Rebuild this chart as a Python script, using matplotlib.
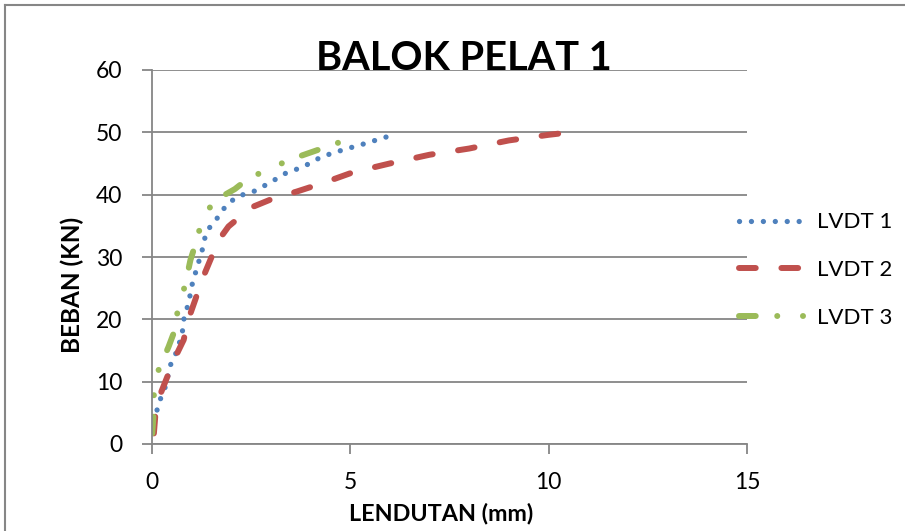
import matplotlib
matplotlib.use("Agg")
import matplotlib.pyplot as plt
from matplotlib.lines import Line2D

# Data
lvdt1_x = [0.02, 0.10, 0.18, 0.35, 0.48, 0.60, 0.77, 0.81, 0.94, 1.02, 1.15, 1.27, 1.36, 1.48, 1.69, 1.86, 2.15, 2.57, 2.95, 3.37, 3.83, 4.29, 4.83, 5.38, 5.88, 6.15]
lvdt1_y = [1.7, 4.4, 6.5, 9.2, 12.7, 14.3, 17.5, 19.9, 22.8, 25.5, 28.4, 30.9, 33.5, 34.9, 36.5, 38.1, 39.7, 40.5, 41.8, 43.4, 44.5, 46.1, 47.2, 48.2, 49.2, 49.6]

lvdt2_x = [0.06, 0.10, 0.23, 0.43, 0.65, 0.81, 0.94, 1.10, 1.27, 1.48, 1.69, 1.94, 2.24, 2.57, 3.07, 3.66, 4.29, 5.08, 6.00, 7.00, 8.00, 9.00, 10.00, 10.27]
lvdt2_y = [1.7, 4.9, 8.1, 11.3, 14.6, 16.7, 20.2, 23.1, 26.3, 29.5, 32.7, 34.9, 36.5, 38.1, 39.4, 40.5, 41.8, 43.6, 45.0, 46.4, 47.4, 48.7, 49.6, 49.8]

lvdt3_x = [0.02, 0.06, 0.06, 0.18, 0.43, 0.56, 0.65, 0.77, 0.89, 0.98, 1.06, 1.15, 1.27, 1.40, 1.52, 1.77, 2.10, 2.40, 2.90, 3.57, 4.29, 5.00, 5.17]
lvdt3_y = [1.7, 5.5, 8.1, 11.9, 15.6, 17.8, 21.0, 23.6, 26.8, 29.5, 31.1, 33.3, 35.4, 37.0, 38.6, 39.7, 40.9, 42.4, 44.0, 45.8, 47.4, 49.0, 49.3]

series_names = ["LVDT 1", "LVDT 2", "LVDT 3"]
x_ticks = [0, 5, 10, 15]
y_ticks = [0, 10, 20, 30, 40, 50, 60]

FONT = "Lato"
GRID = "#868686"
c_blue, c_red, c_green = "#4F81BD", "#C0504D", "#9BBB59"

fig = plt.figure(figsize=(9.05, 5.31), dpi=100)
ax = fig.add_axes([151.5 / 905, 1 - 444 / 531, (747 - 151.5) / 905, (444 - 70) / 531])

ax.plot(lvdt1_x, lvdt1_y, color=c_blue, lw=3.8, linestyle=(0, (0.01, 2.25)),
        dash_capstyle="round", solid_capstyle="round", label=series_names[0])
ax.plot(lvdt2_x, lvdt2_y, color=c_red, lw=4.3, linestyle=(0, (2.8, 4.3)),
        dash_capstyle="round", label=series_names[1])
ax.plot(lvdt3_x, lvdt3_y, color=c_green, lw=4.3, linestyle=(0, (2.8, 3.6, 0.01, 4.3, 0.01, 3.6)),
        dash_capstyle="round", label=series_names[2])

ax.set_xlim(0, 15)
ax.set_ylim(0, 60)
ax.set_xticks(x_ticks)
ax.set_yticks(y_ticks)
ax.yaxis.grid(True, color=GRID, lw=1.3)
ax.xaxis.grid(False)
ax.set_axisbelow(True)
for s in ["top", "right"]:
    ax.spines[s].set_visible(False)
for s in ["left", "bottom"]:
    ax.spines[s].set_color(GRID)
    ax.spines[s].set_linewidth(1.3)
ax.tick_params(axis="both", direction="out", length=7, width=1.3, color=GRID,
               labelsize=16.5, labelcolor="black")
ax.tick_params(axis="y", pad=14)
ax.tick_params(axis="x", pad=13)
for lab in ax.get_xticklabels() + ax.get_yticklabels():
    lab.set_fontfamily(FONT)

fig.text(441 / 905, 1 - 514 / 531, "LENDUTAN (mm)", ha="center", va="center",
         fontfamily=FONT, fontweight="bold", fontsize=16.8)
fig.text(72 / 905, 1 - 285 / 531, "BEBAN (KN)", ha="center", va="center", rotation=90,
         fontfamily=FONT, fontweight="bold", fontsize=17.5)

fig.text(464 / 905, 1 - 58 / 531, "BALOK PELAT 1", ha="center", va="center",
         fontfamily=FONT, fontweight="bold", fontsize=28.6)

leg = ax.legend(loc="center left", bbox_to_anchor=(0.953, 0.465), frameon=False,
                prop={"family": FONT, "size": 16}, handlelength=3.0,
                labelspacing=1.25, handletextpad=0.5)

# outer chart border
fig.add_artist(Line2D([5 / 905, 5 / 905], [0, 1 - 5 / 531], transform=fig.transFigure, color=GRID, lw=1.5))
fig.add_artist(Line2D([5 / 905, 1], [1 - 5 / 531, 1 - 5 / 531], transform=fig.transFigure, color=GRID, lw=1.5))

fig.savefig("out.png", dpi=100)
